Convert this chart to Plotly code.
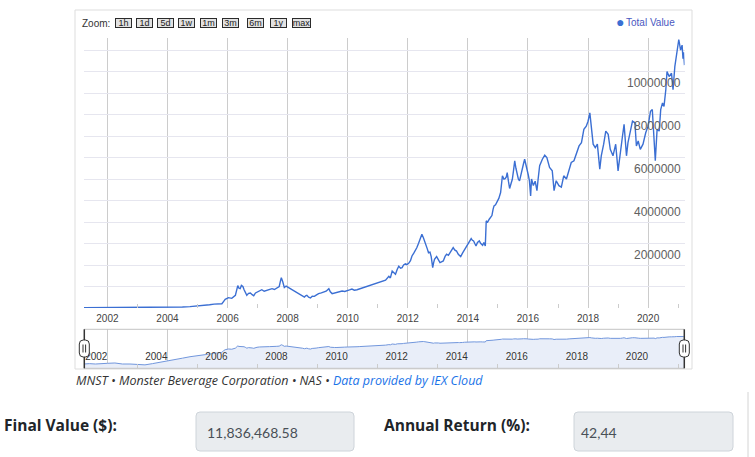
import pandas as pd
import plotly.graph_objects as go

W, H = 755, 457

# valores (año decimal, valor total en millones de $)
years = [
    2001.22, 2001.40, 2001.60, 2001.80, 2002.00, 2002.25, 2002.50, 2002.75,
    2003.00, 2003.25, 2003.50, 2003.75, 2004.00, 2004.25, 2004.50, 2004.75,
    2005.00, 2005.20, 2005.40, 2005.55, 2005.70, 2005.81, 2005.87, 2005.92,
    2006.03, 2006.14, 2006.26, 2006.34, 2006.38, 2006.42, 2006.46, 2006.51,
    2006.55, 2006.59, 2006.64, 2006.70, 2006.76, 2006.82, 2006.87, 2006.93,
    2006.98, 2007.06, 2007.14, 2007.22, 2007.31, 2007.40, 2007.48, 2007.56,
    2007.64, 2007.72, 2007.76, 2007.79, 2007.84, 2007.89, 2007.95, 2008.00,
    2008.07, 2008.14, 2008.22, 2008.31, 2008.36, 2008.42, 2008.50, 2008.56,
    2008.60, 2008.64, 2008.70, 2008.76, 2008.82, 2008.89, 2008.95, 2009.03,
    2009.12, 2009.20, 2009.28, 2009.37, 2009.42, 2009.48, 2009.56, 2009.64,
    2009.72, 2009.81, 2009.90, 2009.98, 2010.06, 2010.14, 2010.22, 2010.31,
    2010.40, 2010.48, 2010.56, 2010.64, 2010.75, 2010.87, 2010.98, 2011.09,
    2011.18, 2011.26, 2011.37, 2011.42, 2011.48, 2011.54, 2011.59, 2011.65,
    2011.70, 2011.76, 2011.81, 2011.86, 2011.92, 2011.97, 2012.03, 2012.09,
    2012.14, 2012.20, 2012.25, 2012.30, 2012.36, 2012.42, 2012.47, 2012.52,
    2012.57, 2012.61, 2012.65, 2012.69, 2012.74, 2012.78, 2012.83, 2012.86,
    2012.89, 2012.96, 2013.02, 2013.07, 2013.12, 2013.18, 2013.24, 2013.29,
    2013.35, 2013.40, 2013.45, 2013.51, 2013.56, 2013.62, 2013.68, 2013.72,
    2013.76, 2013.82, 2013.89, 2013.95, 2014.00, 2014.06, 2014.11, 2014.15,
    2014.19, 2014.23, 2014.27, 2014.32, 2014.38, 2014.43, 2014.49, 2014.53,
    2014.58, 2014.61, 2014.66, 2014.71, 2014.76, 2014.80, 2014.84, 2014.87,
    2014.92, 2014.98, 2015.03, 2015.09, 2015.12, 2015.15, 2015.20, 2015.24,
    2015.28, 2015.31, 2015.35, 2015.39, 2015.44, 2015.48, 2015.52, 2015.56,
    2015.60, 2015.64, 2015.68, 2015.72, 2015.76, 2015.80, 2015.85, 2015.89,
    2015.93, 2015.97, 2016.01, 2016.05, 2016.09, 2016.12, 2016.18, 2016.24,
    2016.30, 2016.34, 2016.39, 2016.48, 2016.56, 2016.63, 2016.72, 2016.81,
    2016.87, 2016.94, 2017.03, 2017.11, 2017.19, 2017.28, 2017.37, 2017.44,
    2017.53, 2017.61, 2017.70, 2017.78, 2017.86, 2017.94, 2018.00, 2018.06,
    2018.11, 2018.17, 2018.24, 2018.31, 2018.39, 2018.44, 2018.52, 2018.59,
    2018.67, 2018.74, 2018.83, 2018.92, 2019.00, 2019.08, 2019.14, 2019.20,
    2019.28, 2019.33, 2019.41, 2019.48, 2019.56, 2019.61, 2019.67, 2019.74,
    2019.83, 2019.92, 2020.00, 2020.08, 2020.14, 2020.20, 2020.24, 2020.30,
    2020.37, 2020.42, 2020.48, 2020.53, 2020.59, 2020.63, 2020.70, 2020.78,
    2020.83, 2020.89, 2020.94, 2021.02, 2021.08, 2021.13, 2021.16, 2021.18,
    2021.21,
]
total_value_m = [
    0.010, 0.011, 0.010, 0.012, 0.012, 0.013, 0.010, 0.010,
    0.009, 0.008, 0.011, 0.015, 0.020, 0.028, 0.045, 0.065,
    0.085, 0.12, 0.15, 0.18, 0.21, 0.20, 0.31, 0.40,
    0.48, 0.45, 0.59, 1.04, 0.92, 0.90, 1.05, 1.00,
    0.85, 0.74, 0.59, 0.68, 0.70, 0.62, 0.57, 0.70,
    0.74, 0.80, 0.85, 0.78, 0.82, 0.88, 0.90, 0.86,
    0.95, 1.00, 1.25, 1.41, 1.21, 0.95, 1.02, 0.98,
    0.92, 0.85, 0.80, 0.74, 0.70, 0.64, 0.58, 0.51,
    0.57, 0.59, 0.50, 0.47, 0.55, 0.54, 0.60, 0.67,
    0.70, 0.74, 0.78, 0.90, 0.75, 0.67, 0.70, 0.70,
    0.76, 0.79, 0.77, 0.79, 0.84, 0.88, 0.83, 0.85,
    0.89, 0.91, 0.96, 1.00, 1.05, 1.10, 1.16, 1.21,
    1.24, 1.29, 1.47, 1.40, 1.72, 1.62, 1.57, 1.80,
    1.94, 1.85, 1.88, 2.00, 2.06, 2.02, 2.08, 2.20,
    2.42, 2.55, 2.65, 2.80, 3.01, 3.20, 3.43, 3.27,
    3.10, 2.92, 2.75, 2.57, 2.60, 2.39, 1.88, 2.10,
    2.26, 2.39, 2.25, 2.11, 2.15, 2.19, 2.40, 2.50,
    2.45, 2.57, 2.70, 2.81, 2.70, 2.65, 2.50, 2.45,
    2.39, 2.55, 2.73, 2.85, 2.96, 3.10, 3.23, 3.15,
    3.12, 3.00, 2.89, 3.05, 3.12, 3.00, 2.92, 3.05,
    2.89, 4.05, 4.00, 4.13, 4.20, 4.30, 4.60, 4.75,
    4.80, 4.98, 5.10, 5.37, 5.80, 6.15, 6.00, 6.02,
    6.10, 6.30, 5.90, 5.56, 5.80, 5.99, 6.40, 6.84,
    6.50, 6.15, 6.00, 5.91, 6.20, 6.46, 6.70, 6.92,
    6.70, 6.53, 6.20, 5.91, 5.21, 6.00, 5.70, 5.90,
    5.46, 6.00, 6.62, 6.92, 7.11, 7.00, 6.54, 6.38,
    5.46, 5.92, 5.69, 5.62, 6.15, 6.00, 6.46, 6.77,
    6.85, 7.15, 7.54, 7.69, 8.31, 8.46, 8.69, 9.08,
    8.38, 7.62, 7.46, 7.62, 6.46, 7.08, 7.62, 8.23,
    8.08, 7.38, 7.08, 7.62, 6.38, 7.38, 7.92, 8.54,
    7.08, 7.69, 8.31, 8.69, 8.62, 7.54, 7.77, 7.38,
    7.62, 8.15, 8.46, 9.15, 9.23, 7.85, 6.85, 8.31,
    8.23, 9.23, 9.54, 9.38, 10.15, 11.00, 10.77, 10.92,
    10.15, 11.23, 11.77, 12.49, 12.00, 12.23, 11.60, 11.90,
    11.30,
]

y_tick_vals = [0, 1e6, 2e6, 3e6, 4e6, 5e6, 6e6, 7e6, 8e6, 9e6, 10e6, 11e6, 12e6]
y_label_vals = [2e6, 4e6, 6e6, 8e6, 10e6]
y_label_text = ["2000000", "4000000", "6000000", "8000000", "10000000"]

zoom_botones = ["1h", "1d", "5d", "1w", "1m", "3m", "6m", "1y", "max"]

final_value = "11,836,468.58"
annual_return = "42,44"


def a_fecha(y):
    anio = int(y)
    return pd.Timestamp(year=anio, month=1, day=1) + pd.Timedelta(days=(y - anio) * 365.25)


fechas = [a_fecha(y) for y in years]
valores = [v * 1e6 for v in total_value_m]


# pixeles -> coordenadas de papel
def fx(px):
    return px / W


def fy(py):
    return 1 - py / H


def rect_redondeado(x0, y0, x1, y1, r):
    # path en coordenadas de papel a partir de pixeles
    p = [
        f"M{fx(x0 + r)},{fy(y0)}", f"L{fx(x1 - r)},{fy(y0)}",
        f"Q{fx(x1)},{fy(y0)} {fx(x1)},{fy(y0 + r)}", f"L{fx(x1)},{fy(y1 - r)}",
        f"Q{fx(x1)},{fy(y1)} {fx(x1 - r)},{fy(y1)}", f"L{fx(x0 + r)},{fy(y1)}",
        f"Q{fx(x0)},{fy(y1)} {fx(x0)},{fy(y1 - r)}", f"L{fx(x0)},{fy(y0 + r)}",
        f"Q{fx(x0)},{fy(y0)} {fx(x0 + r)},{fy(y0)}", "Z",
    ]
    return " ".join(p)


AZUL = "#3b6fd3"
FUENTE = "Liberation Sans, Arial, sans-serif"
FUENTE_FORM = "Open Sans, sans-serif"

fig = go.Figure()

# serie principal
fig.add_trace(go.Scatter(
    x=fechas, y=valores, mode="lines", name="Total Value",
    line=dict(color=AZUL, width=1.4), xaxis="x", yaxis="y",
    showlegend=False, hoverinfo="x+y",
))

# navegador (escala logaritmica)
fig.add_trace(go.Scatter(
    x=fechas, y=valores, mode="lines", line=dict(color="#7196dc", width=1),
    fill="tozeroy", fillcolor="#e9eef9", xaxis="x2", yaxis="y2",
    showlegend=False, hoverinfo="skip",
))

x_dom = [fx(84), fx(684.5)]
y_dom = [fy(308), fy(38)]
rango_x = [fechas[0], fechas[-1]]
rango_y = [0, 12.56e6]

fig.update_layout(
    width=W, height=H,
    margin=dict(l=0, r=0, t=0, b=0),
    paper_bgcolor="white", plot_bgcolor="white",
    font=dict(family=FUENTE, color="#333333"),
    xaxis=dict(
        domain=x_dom, anchor="y", type="date", range=rango_x,
        tick0="2002-01-01", dtick="M24", tickformat="%Y",
        showgrid=True, gridcolor="#cccccc", gridwidth=1,
        ticks="", showline=False, zeroline=False, ticklabelstandoff=3,
        tickfont=dict(size=10, color="#444444"),
        minor=dict(tick0="2001-01-01", dtick="M12", ticks="inside", ticklen=4,
                   tickcolor="#cccccc", showgrid=False),
    ),
    yaxis=dict(
        domain=y_dom, anchor="x", range=rango_y,
        tickmode="array", tickvals=y_tick_vals, showticklabels=False,
        showgrid=True, gridcolor="#e6e6ef", zeroline=False, showline=False, ticks="",
    ),
    xaxis2=dict(
        domain=x_dom, anchor="y2", type="date", range=rango_x,
        tick0="2002-01-01", dtick="M24", tickformat="%Y",
        showgrid=True, gridcolor="#cccccc", ticks="", ticklen=0,
        ticklabelposition="inside left", showline=False, zeroline=False,
        tickfont=dict(size=10, color="#333333", shadow="0px 0px 2px white"),
        minor=dict(tick0="2001-01-01", dtick="M12", ticks="inside", ticklen=4,
                   tickcolor="#cccccc", showgrid=False),
    ),
    yaxis2=dict(
        domain=[fy(368.3), fy(329.3)], anchor="x2", type="log", range=[3.52, 7.88],
        showgrid=False, showticklabels=False, zeroline=False, ticks="",
    ),
)

formas = []
# marco del grafico
formas.append(dict(type="rect", xref="paper", yref="paper",
                   x0=fx(75), x1=fx(692), y0=fy(369), y1=fy(10),
                   line=dict(color="#dddddd", width=1), fillcolor="rgba(0,0,0,0)"))
# bordes del navegador
for py in (329.3, 368.3):
    formas.append(dict(type="line", xref="paper", yref="paper",
                       x0=fx(84), x1=fx(684.3), y0=fy(py), y1=fy(py),
                       line=dict(color="#c4c4c4", width=1)))
# tiradores
for cx in (84.3, 684.3):
    formas.append(dict(type="line", xref="paper", yref="paper",
                       x0=fx(cx), x1=fx(cx), y0=fy(329.3), y1=fy(368.3),
                       line=dict(color="#333333", width=1.5)))
    formas.append(dict(type="path", xref="paper", yref="paper",
                       path=rect_redondeado(cx - 5, 340, cx + 5, 357, 4),
                       fillcolor="white", line=dict(color="#333333", width=1)))
    for dx in (-1.3, 1.3):
        formas.append(dict(type="line", xref="paper", yref="paper",
                           x0=fx(cx + dx), x1=fx(cx + dx), y0=fy(344.5), y1=fy(352.5),
                           line=dict(color="#333333", width=1)))
# cajas de resultados
for x0, x1 in ((196, 354), (574, 733)):
    formas.append(dict(type="path", xref="paper", yref="paper",
                       path=rect_redondeado(x0, 412, x1, 451, 4),
                       fillcolor="#e9ecef", line=dict(color="#ced4da", width=1)))
# linea vertical a la derecha
formas.append(dict(type="line", xref="paper", yref="paper",
                   x0=fx(748), x1=fx(748), y0=fy(392), y1=fy(457),
                   line=dict(color="#d4d4d4", width=1)))
fig.update_layout(shapes=formas)

anot = []
# etiquetas del eje y, dentro del area a la derecha y sobre la linea de rejilla
for val, txt in zip(y_label_vals, y_label_text):
    anot.append(dict(text=txt, x=fx(683), y=val, yref="y", xanchor="right",
                     yanchor="middle", yshift=10, font=dict(size=12, color="#606060")))
anot.append(dict(text="Zoom:", x=fx(80), y=fy(23), xanchor="left", yanchor="middle",
                 font=dict(size=10, color="#333333")))
boton_x = [123.3, 144.0, 165.2, 186.2, 208.8, 230.7, 255.8, 278.8, 301.7]
for etiqueta, bx in zip(zoom_botones, boton_x):
    anot.append(dict(text=etiqueta, x=fx(bx), y=fy(23), xanchor="center", yanchor="middle",
                     width=15 if etiqueta != "max" else 17, height=8,
                     bgcolor="#e2e2e2", bordercolor="#2b2b2b", borderwidth=1, borderpad=0,
                     font=dict(size=9, color="#222222")))
# leyenda
anot.append(dict(text="●", x=fx(620), y=fy(22), xanchor="center", yanchor="middle",
                 font=dict(size=14, color=AZUL)))
anot.append(dict(text="Total Value", x=fx(624), y=fy(22), xanchor="left", yanchor="middle",
                 font=dict(size=10, color="#4a58bf")))
# pie
anot.append(dict(
    text="<i>MNST • Monster Beverage Corporation • NAS • "
         "<span style='color:#1a73e8'>Data provided by IEX Cloud</span></i>",
    x=fx(74), y=fy(380), xanchor="left", yanchor="middle",
    font=dict(size=12.5, family=FUENTE_FORM, color="#333333")))
anot.append(dict(text="<b>Final Value ($):</b>", x=fx(2), y=fy(425), xanchor="left",
                 yanchor="middle", font=dict(size=15.5, family=FUENTE_FORM, color="#212529")))
anot.append(dict(text="<b>Annual Return (%):</b>", x=fx(382), y=fy(425), xanchor="left",
                 yanchor="middle", font=dict(size=15.5, family=FUENTE_FORM, color="#212529")))
anot.append(dict(text=final_value, x=fx(205), y=fy(432), xanchor="left", yanchor="middle",
                 font=dict(size=14, family="Lato, sans-serif", color="#495057")))
anot.append(dict(text=annual_return, x=fx(579), y=fy(432), xanchor="left", yanchor="middle",
                 font=dict(size=14, family="Lato, sans-serif", color="#495057")))
for a in anot:
    a.setdefault("yref", "paper")
    a.update(xref="paper", showarrow=False)
fig.update_layout(annotations=anot)

fig.write_html(
    "out.html",
    config={"displayModeBar": False},
    post_script="document.body.style.margin='0';document.body.style.overflow='hidden';",
)
